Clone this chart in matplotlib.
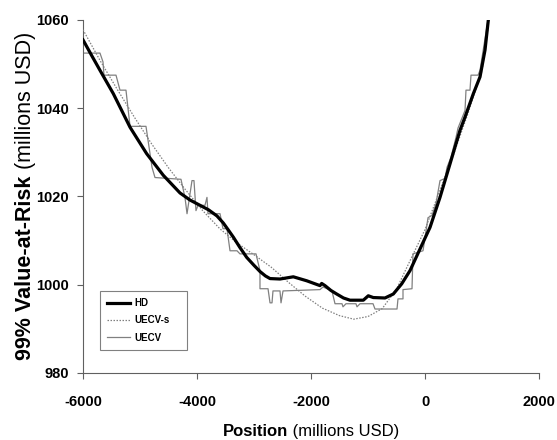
import matplotlib
matplotlib.use('Agg')
from matplotlib import pyplot as plt

plt.rcParams['font.family'] = ['Liberation Sans', 'DejaVu Sans']

# UECV (step estimate, thin gray)
uecv_x = [-6000, -5702, -5649, -5632, -5421, -5351, -5246, -5175, -4895, -4789,
          -4737, -4281, -4211, -4175, -4140, -4088, -4053, -4018, -3982, -3860,
          -3825, -3807, -3596, -3544, -3474, -3421, -3298, -3246, -2965, -2895,
          -2895, -2754, -2719, -2684, -2667, -2544, -2526, -2491, -1842, -1789,
          -1632, -1579, -1456, -1439, -1386, -1211, -1193, -1140, -912, -877,
          -491, -474, -386, -386, -228, -211, -35, 53, 123, 193,
          263, 351, 386, 456, 544, 579, 702, 719, 789, 807,
          930, 965, 1105]
uecv_y = [1052.5, 1052.5, 1050.5, 1047.5, 1047.5, 1044.1, 1044.1, 1035.9, 1035.9, 1026.6,
          1024.3, 1023.9, 1019.8, 1016.1, 1019.1, 1023.6, 1023.6, 1016.8, 1018.0, 1018.0,
          1019.8, 1016.1, 1016.1, 1012.7, 1012.7, 1007.7, 1007.7, 1007.0, 1007.0, 1003.2,
          999.1, 999.1, 995.9, 995.9, 998.6, 998.6, 995.9, 998.6, 998.9, 999.5,
          998.6, 995.7, 995.7, 995.0, 995.7, 995.7, 995.0, 995.7, 995.7, 994.5,
          994.5, 996.8, 996.8, 998.9, 999.1, 1007.0, 1007.7, 1015.2, 1015.7, 1018.4,
          1023.6, 1024.1, 1026.6, 1028.9, 1033.4, 1035.5, 1039.5, 1044.1, 1044.1, 1047.5,
          1047.5, 1048.6, 1060.0]

# UECV-s (smoothed, dotted)
uecvs_x = [-6000, -5700, -5400, -5100, -4800, -4500, -4200, -3900, -3600, -3300,
           -3000, -2700, -2400, -2100, -1800, -1500, -1250, -1000, -750, -500,
           -250, 0, 250, 500, 750, 1000, 1111]
uecvs_y = [1057.8, 1050.8, 1044.3, 1038.0, 1032.0, 1026.5, 1021.5, 1016.8, 1012.7, 1009.5,
           1006.8, 1004.0, 1000.6, 997.4, 994.7, 993.0, 992.2, 992.8, 994.6, 999.0,
           1005.8, 1012.5, 1021.0, 1029.5, 1038.7, 1048.5, 1058.5]

# HD (thick black)
hd_x = [-6000, -5850, -5702, -5468, -5175, -4883, -4591, -4298, -4123, -3947,
        -3800, -3650, -3539, -3450, -3363, -3250, -3128, -3000, -2895, -2800,
        -2719, -2544, -2310, -2075, -1842, -1813, -1754, -1650, -1549, -1430,
        -1316, -1082, -995, -907, -702, -556, -409, -263, -88, 88,
        263, 439, 526, 614, 702, 848, 965, 1053, 1111]
hd_y = [1055.5, 1052.0, 1048.6, 1043.3, 1035.7, 1029.7, 1024.8, 1020.8, 1019.2, 1018.0,
        1017.0, 1015.6, 1014.0, 1012.4, 1010.8, 1008.5, 1006.2, 1004.4, 1003.0, 1002.0,
        1001.4, 1001.3, 1001.8, 1000.9, 999.8, 1000.3, 999.8, 998.7, 997.9, 997.0,
        996.5, 996.5, 997.5, 997.1, 997.0, 997.9, 1000.2, 1003.2, 1008.1, 1013.0,
        1019.8, 1027.4, 1031.2, 1035.0, 1038.0, 1043.3, 1047.1, 1053.2, 1060.0]

x_ticks = [-6000, -4000, -2000, 0, 2000]
y_ticks = [980, 1000, 1020, 1040, 1060]

W, H = 557, 440
fig = plt.figure(figsize=(W / 100, H / 100), dpi=100)
ax = fig.add_axes([83 / W, 1 - 373 / H, 456 / W, 353 / H])

ax.plot(uecv_x, uecv_y, color='#808080', lw=0.9, label='UECV', zorder=2)
ax.plot(uecvs_x, uecvs_y, color='#808080', lw=0.9, ls=(0, (1.2, 1.2)), label='UECV-s', zorder=3)
ax.plot(hd_x, hd_y, color='black', lw=2.3, label='HD', zorder=4, solid_joinstyle='round')

ax.set_xlim(-6000, 2000)
ax.set_ylim(980, 1060)
ax.set_xticks(x_ticks)
ax.set_yticks(y_ticks)
ax.set_xticklabels([str(v) for v in x_ticks], fontweight='bold', fontsize=10.5)
ax.set_yticklabels([str(v) for v in y_ticks], fontweight='bold', fontsize=10.5)
ax.tick_params(axis='x', direction='out', length=4, width=0.8, color='#606060', pad=12)
ax.tick_params(axis='y', direction='out', length=4, width=0.8, color='#606060', pad=6)
for side in ['top', 'right']:
    ax.spines[side].set_visible(False)
for side in ['left', 'bottom']:
    ax.spines[side].set_color('#606060')
    ax.spines[side].set_linewidth(0.8)

handles, labels = ax.get_legend_handles_labels()
order = [2, 1, 0]
leg = ax.legend([handles[i] for i in order], [labels[i] for i in order],
                loc='lower left', bbox_to_anchor=(0.037, 0.065, 0.19, 0.153), mode='expand',
                borderaxespad=0, fancybox=False, framealpha=1, edgecolor='#808080',
                prop={'weight': 'bold', 'size': 7}, handlelength=2.4, handletextpad=0.4,
                labelspacing=0.75, borderpad=0.75)
leg.get_frame().set_linewidth(0.8)

# axis titles with a bold part and a normal part
renderer = fig.canvas.get_renderer()

xa = fig.text(0, 4 / H, 'Position', fontweight='bold', fontsize=12, ha='left', va='baseline')
xb = fig.text(0, 4 / H, ' (millions USD)', fontsize=12, ha='left', va='baseline')
wa = xa.get_window_extent(renderer).width
wb = xb.get_window_extent(renderer).width
x0 = 311 - (wa + wb) / 2
xa.set_x(x0 / W)
xb.set_x((x0 + wa) / W)

ya = fig.text(31 / W, 0, '99% Value-at-Risk', fontweight='bold', fontsize=15.5,
              rotation=90, rotation_mode='anchor', ha='left', va='baseline')
yb = fig.text(31 / W, 0, ' (millions USD)', fontsize=15.5,
              rotation=90, rotation_mode='anchor', ha='left', va='baseline')
ha_ = ya.get_window_extent(renderer).height
hb_ = yb.get_window_extent(renderer).height
y0 = (H - 196) - (ha_ + hb_) / 2
ya.set_y(y0 / H)
yb.set_y((y0 + ha_) / H)

fig.savefig('out.png', dpi=100)
